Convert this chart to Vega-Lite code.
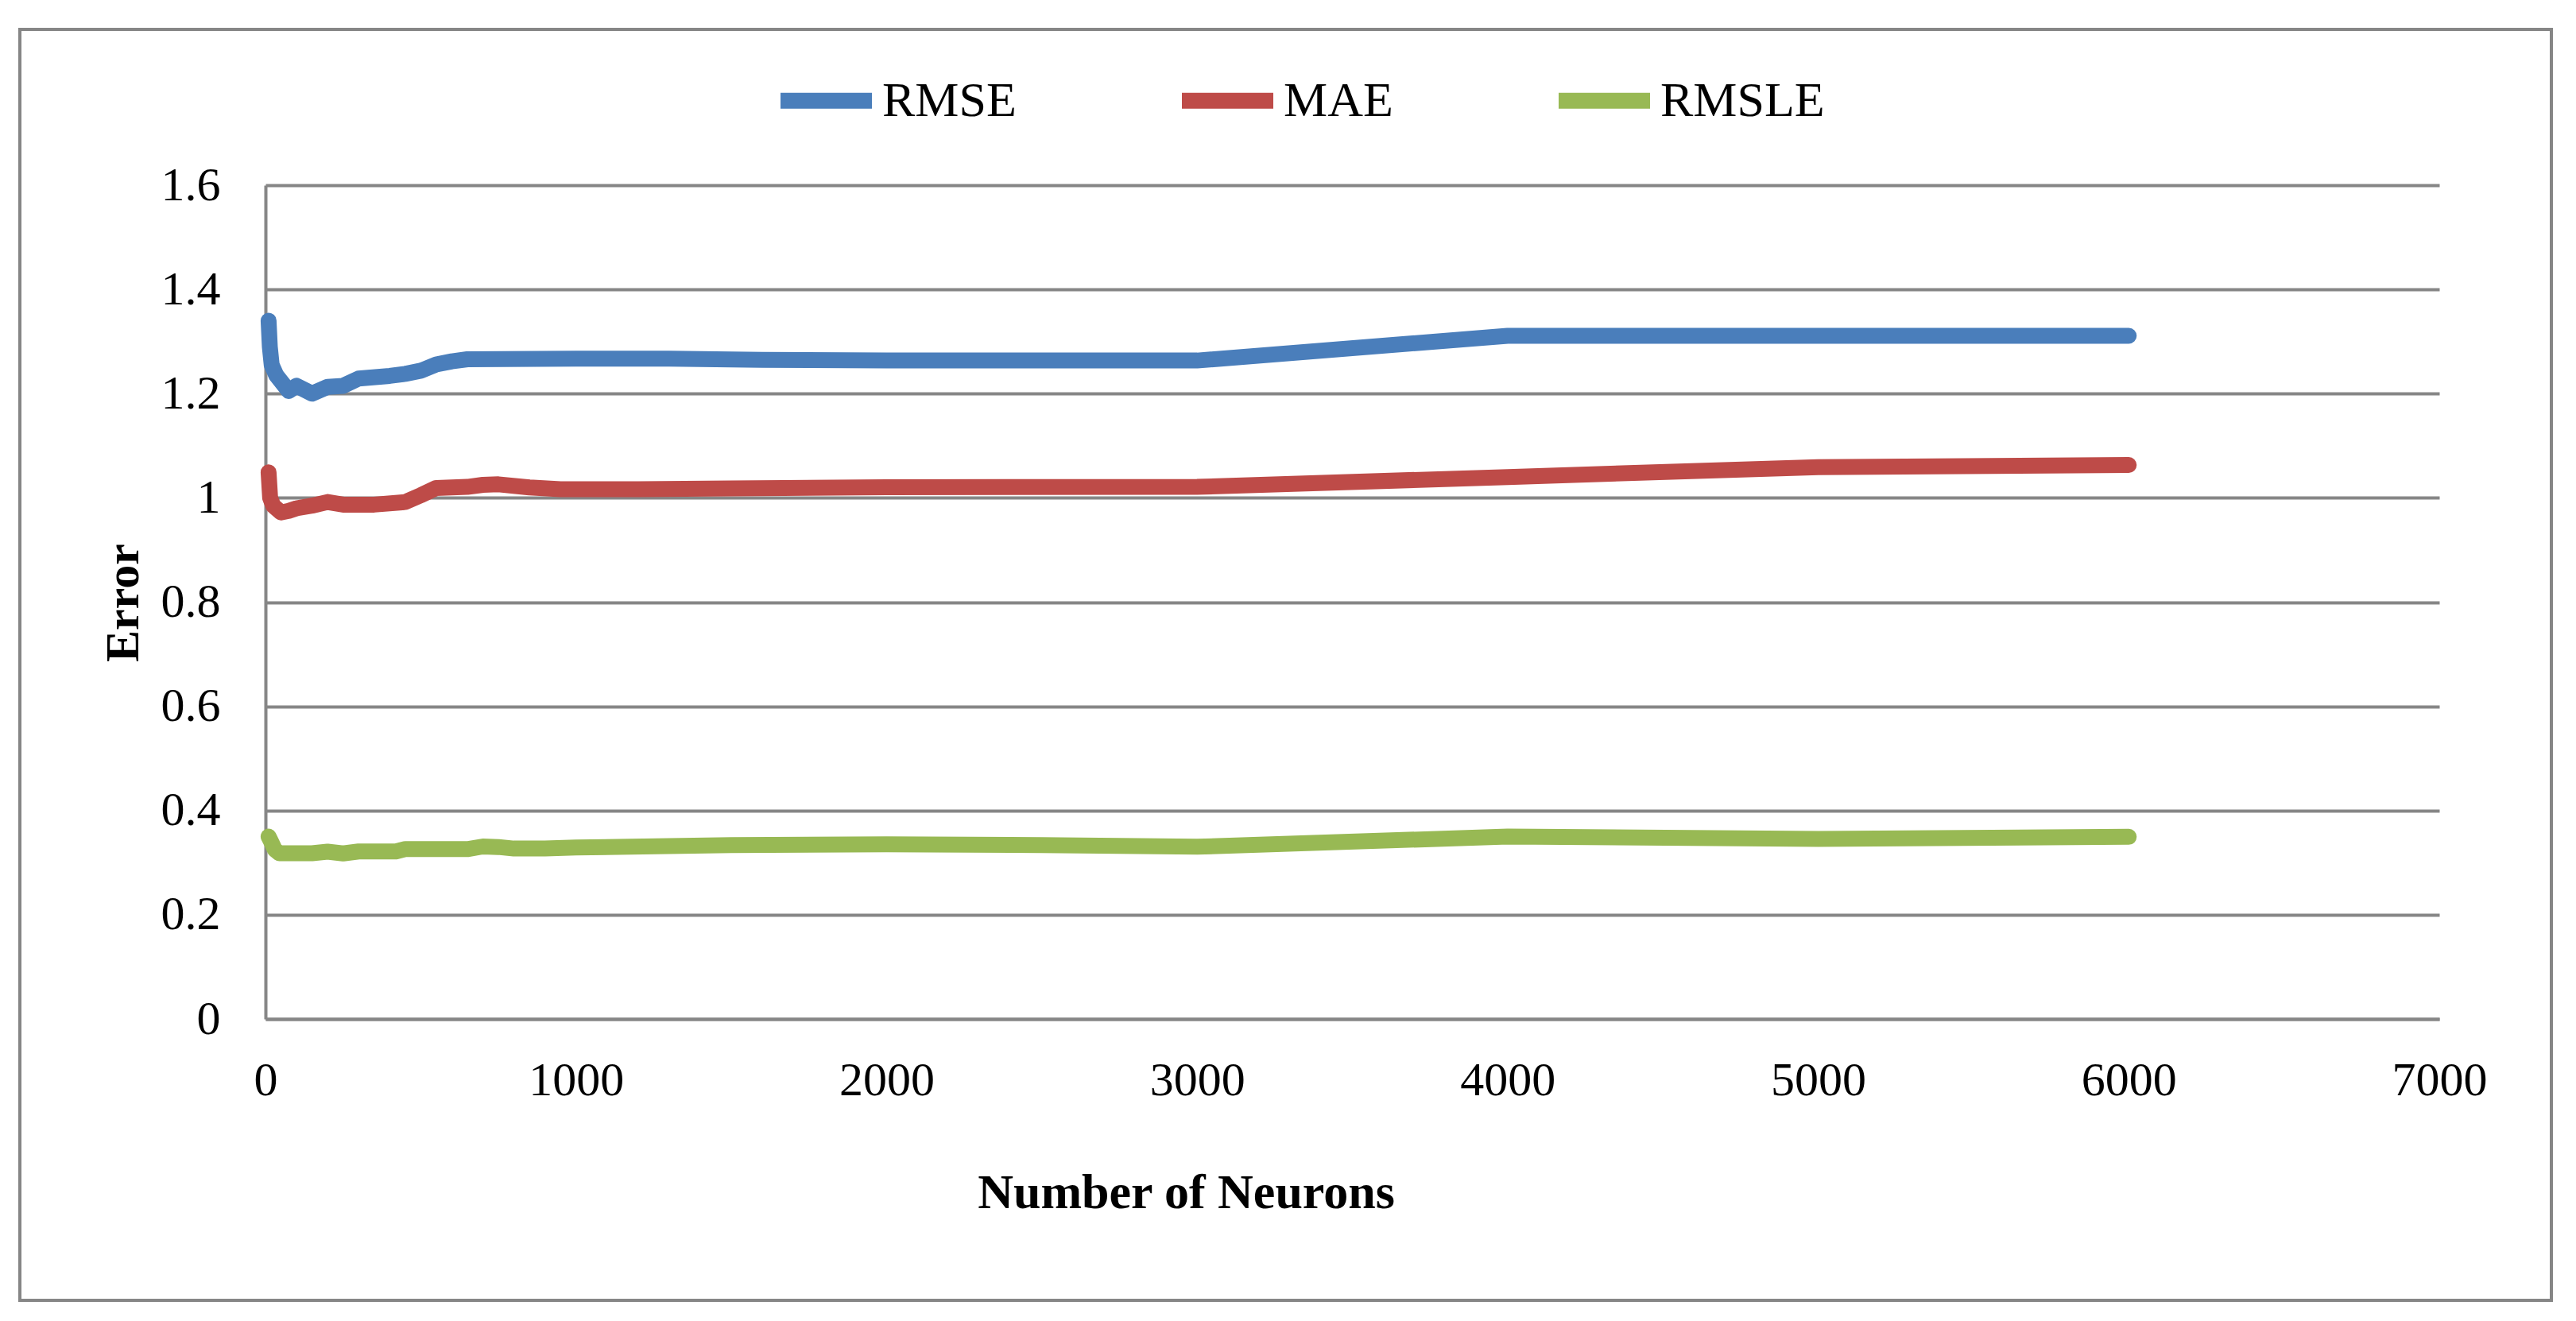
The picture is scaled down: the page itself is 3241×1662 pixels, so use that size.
{
  "$schema": "https://vega.github.io/schema/vega-lite/v6.json",
  "autosize": {"type": "none"},
  "width": 2735,
  "height": 1049,
  "padding": {"left": 334, "top": 233, "right": 172, "bottom": 380},
  "background": "white",
  "config": {
    "view": {"stroke": null},
    "font": "Liberation Serif"
  },
  "data": {
    "values": [
      {"m": "RMSE", "n": 10, "e": 1.34},
      {"m": "RMSE", "n": 14, "e": 1.29},
      {"m": "RMSE", "n": 20, "e": 1.255},
      {"m": "RMSE", "n": 35, "e": 1.235},
      {"m": "RMSE", "n": 75, "e": 1.205},
      {"m": "RMSE", "n": 100, "e": 1.215},
      {"m": "RMSE", "n": 150, "e": 1.2},
      {"m": "RMSE", "n": 200, "e": 1.213},
      {"m": "RMSE", "n": 250, "e": 1.215},
      {"m": "RMSE", "n": 300, "e": 1.229},
      {"m": "RMSE", "n": 400, "e": 1.234},
      {"m": "RMSE", "n": 450, "e": 1.238},
      {"m": "RMSE", "n": 500, "e": 1.244},
      {"m": "RMSE", "n": 550, "e": 1.256},
      {"m": "RMSE", "n": 600, "e": 1.262},
      {"m": "RMSE", "n": 650, "e": 1.266},
      {"m": "RMSE", "n": 1000, "e": 1.267},
      {"m": "RMSE", "n": 1300, "e": 1.267},
      {"m": "RMSE", "n": 1600, "e": 1.265},
      {"m": "RMSE", "n": 2000, "e": 1.2635},
      {"m": "RMSE", "n": 3000, "e": 1.2635},
      {"m": "RMSE", "n": 4000, "e": 1.311},
      {"m": "RMSE", "n": 5000, "e": 1.311},
      {"m": "RMSE", "n": 6000, "e": 1.311},
      {"m": "MAE", "n": 10, "e": 1.049},
      {"m": "MAE", "n": 15, "e": 1.0},
      {"m": "MAE", "n": 25, "e": 0.985},
      {"m": "MAE", "n": 50, "e": 0.972},
      {"m": "MAE", "n": 75, "e": 0.975},
      {"m": "MAE", "n": 100, "e": 0.98},
      {"m": "MAE", "n": 150, "e": 0.985},
      {"m": "MAE", "n": 200, "e": 0.992},
      {"m": "MAE", "n": 250, "e": 0.987},
      {"m": "MAE", "n": 350, "e": 0.987},
      {"m": "MAE", "n": 450, "e": 0.992},
      {"m": "MAE", "n": 500, "e": 1.005},
      {"m": "MAE", "n": 550, "e": 1.019},
      {"m": "MAE", "n": 650, "e": 1.021},
      {"m": "MAE", "n": 700, "e": 1.025},
      {"m": "MAE", "n": 750, "e": 1.026},
      {"m": "MAE", "n": 850, "e": 1.02},
      {"m": "MAE", "n": 950, "e": 1.0165},
      {"m": "MAE", "n": 1200, "e": 1.0165},
      {"m": "MAE", "n": 1500, "e": 1.018},
      {"m": "MAE", "n": 2000, "e": 1.0205},
      {"m": "MAE", "n": 3000, "e": 1.021},
      {"m": "MAE", "n": 4000, "e": 1.04},
      {"m": "MAE", "n": 5000, "e": 1.059},
      {"m": "MAE", "n": 6000, "e": 1.063},
      {"m": "RMSLE", "n": 10, "e": 0.35},
      {"m": "RMSLE", "n": 20, "e": 0.338},
      {"m": "RMSLE", "n": 30, "e": 0.325},
      {"m": "RMSLE", "n": 45, "e": 0.318},
      {"m": "RMSLE", "n": 150, "e": 0.318},
      {"m": "RMSLE", "n": 200, "e": 0.321},
      {"m": "RMSLE", "n": 250, "e": 0.3177},
      {"m": "RMSLE", "n": 300, "e": 0.3215},
      {"m": "RMSLE", "n": 420, "e": 0.3215},
      {"m": "RMSLE", "n": 450, "e": 0.326},
      {"m": "RMSLE", "n": 650, "e": 0.326},
      {"m": "RMSLE", "n": 700, "e": 0.331},
      {"m": "RMSLE", "n": 750, "e": 0.33},
      {"m": "RMSLE", "n": 800, "e": 0.327},
      {"m": "RMSLE", "n": 900, "e": 0.327},
      {"m": "RMSLE", "n": 1000, "e": 0.329},
      {"m": "RMSLE", "n": 1500, "e": 0.3335},
      {"m": "RMSLE", "n": 2000, "e": 0.3352},
      {"m": "RMSLE", "n": 2500, "e": 0.3337},
      {"m": "RMSLE", "n": 3000, "e": 0.3305},
      {"m": "RMSLE", "n": 4000, "e": 0.35},
      {"m": "RMSLE", "n": 5000, "e": 0.3455},
      {"m": "RMSLE", "n": 6000, "e": 0.3495}
    ]
  },
  "layer": [
    {
      "mark": {"type": "rect", "fill": null, "stroke": "#868686", "strokeWidth": 3, "clip": false},
      "encoding": {
        "x": {"datum": -791, "type": "quantitative", "scale": {"domain": [0, 7000], "nice": false}},
        "x2": {"datum": 7361},
        "y": {"datum": 1.899, "type": "quantitative", "scale": {"domain": [0, 1.6], "nice": false}},
        "y2": {"datum": -0.54}
      }
    },
    {
      "mark": {"type": "line", "strokeWidth": 20, "strokeCap": "round", "strokeJoin": "round"},
      "encoding": {
        "x": {
          "field": "n",
          "type": "quantitative",
          "scale": {"domain": [0, 7000], "nice": false},
          "axis": {
            "title": "Number of Neurons",
            "values": [0, 1000, 2000, 3000, 4000, 5000, 6000, 7000],
            "format": "d",
            "grid": false,
            "ticks": false,
            "tickSize": 0,
            "domainColor": "#868686",
            "domainWidth": 4,
            "labelFont": "Liberation Serif",
            "labelFontSize": 60,
            "labelColor": "black",
            "labelBaseline": "alphabetic",
            "labelPadding": 95,
            "labelFlush": false,
            "labelOverlap": false,
            "titleFont": "Liberation Serif",
            "titleFontSize": 62,
            "titleFontWeight": "bold",
            "titleColor": "black",
            "titleBaseline": "alphabetic",
            "titleAnchor": null,
            "titleX": 1158,
            "titleY": 237
          }
        },
        "y": {
          "field": "e",
          "type": "quantitative",
          "scale": {"domain": [0, 1.6], "nice": false},
          "axis": {
            "title": "Error",
            "values": [0, 0.2, 0.4, 0.6, 0.8, 1, 1.2, 1.4, 1.6],
            "format": "~g",
            "grid": true,
            "gridColor": "#868686",
            "gridWidth": 4,
            "ticks": false,
            "tickSize": 0,
            "domainColor": "#868686",
            "domainWidth": 4,
            "labelFont": "Liberation Serif",
            "labelFontSize": 60,
            "labelColor": "black",
            "labelPadding": 57,
            "labelOverlap": false,
            "labelFlush": false,
            "titleFont": "Liberation Serif",
            "titleFontSize": 60,
            "titleFontWeight": "bold",
            "titleColor": "black",
            "titleAngle": -90,
            "titleBaseline": "alphabetic",
            "titleAlign": "center",
            "titleAnchor": null,
            "titleX": -161,
            "titleY": 525
          }
        },
        "color": {
          "field": "m",
          "type": "nominal",
          "sort": ["RMSE", "MAE", "RMSLE"],
          "scale": {"domain": ["RMSE", "MAE", "RMSLE"], "range": ["#4A7EBB", "#BE4B48", "#98B954"]},
          "legend": {
            "title": null,
            "orient": "none",
            "direction": "horizontal",
            "legendX": 638,
            "legendY": -174,
            "padding": 0,
            "symbolType": "stroke",
            "symbolSize": 13225,
            "symbolStrokeWidth": 20,
            "labelFont": "Liberation Serif",
            "labelFontSize": 62,
            "labelColor": "black",
            "labelOffset": 3,
            "labelLimit": 0,
            "columnPadding": 168
          }
        }
      }
    }
  ]
}
